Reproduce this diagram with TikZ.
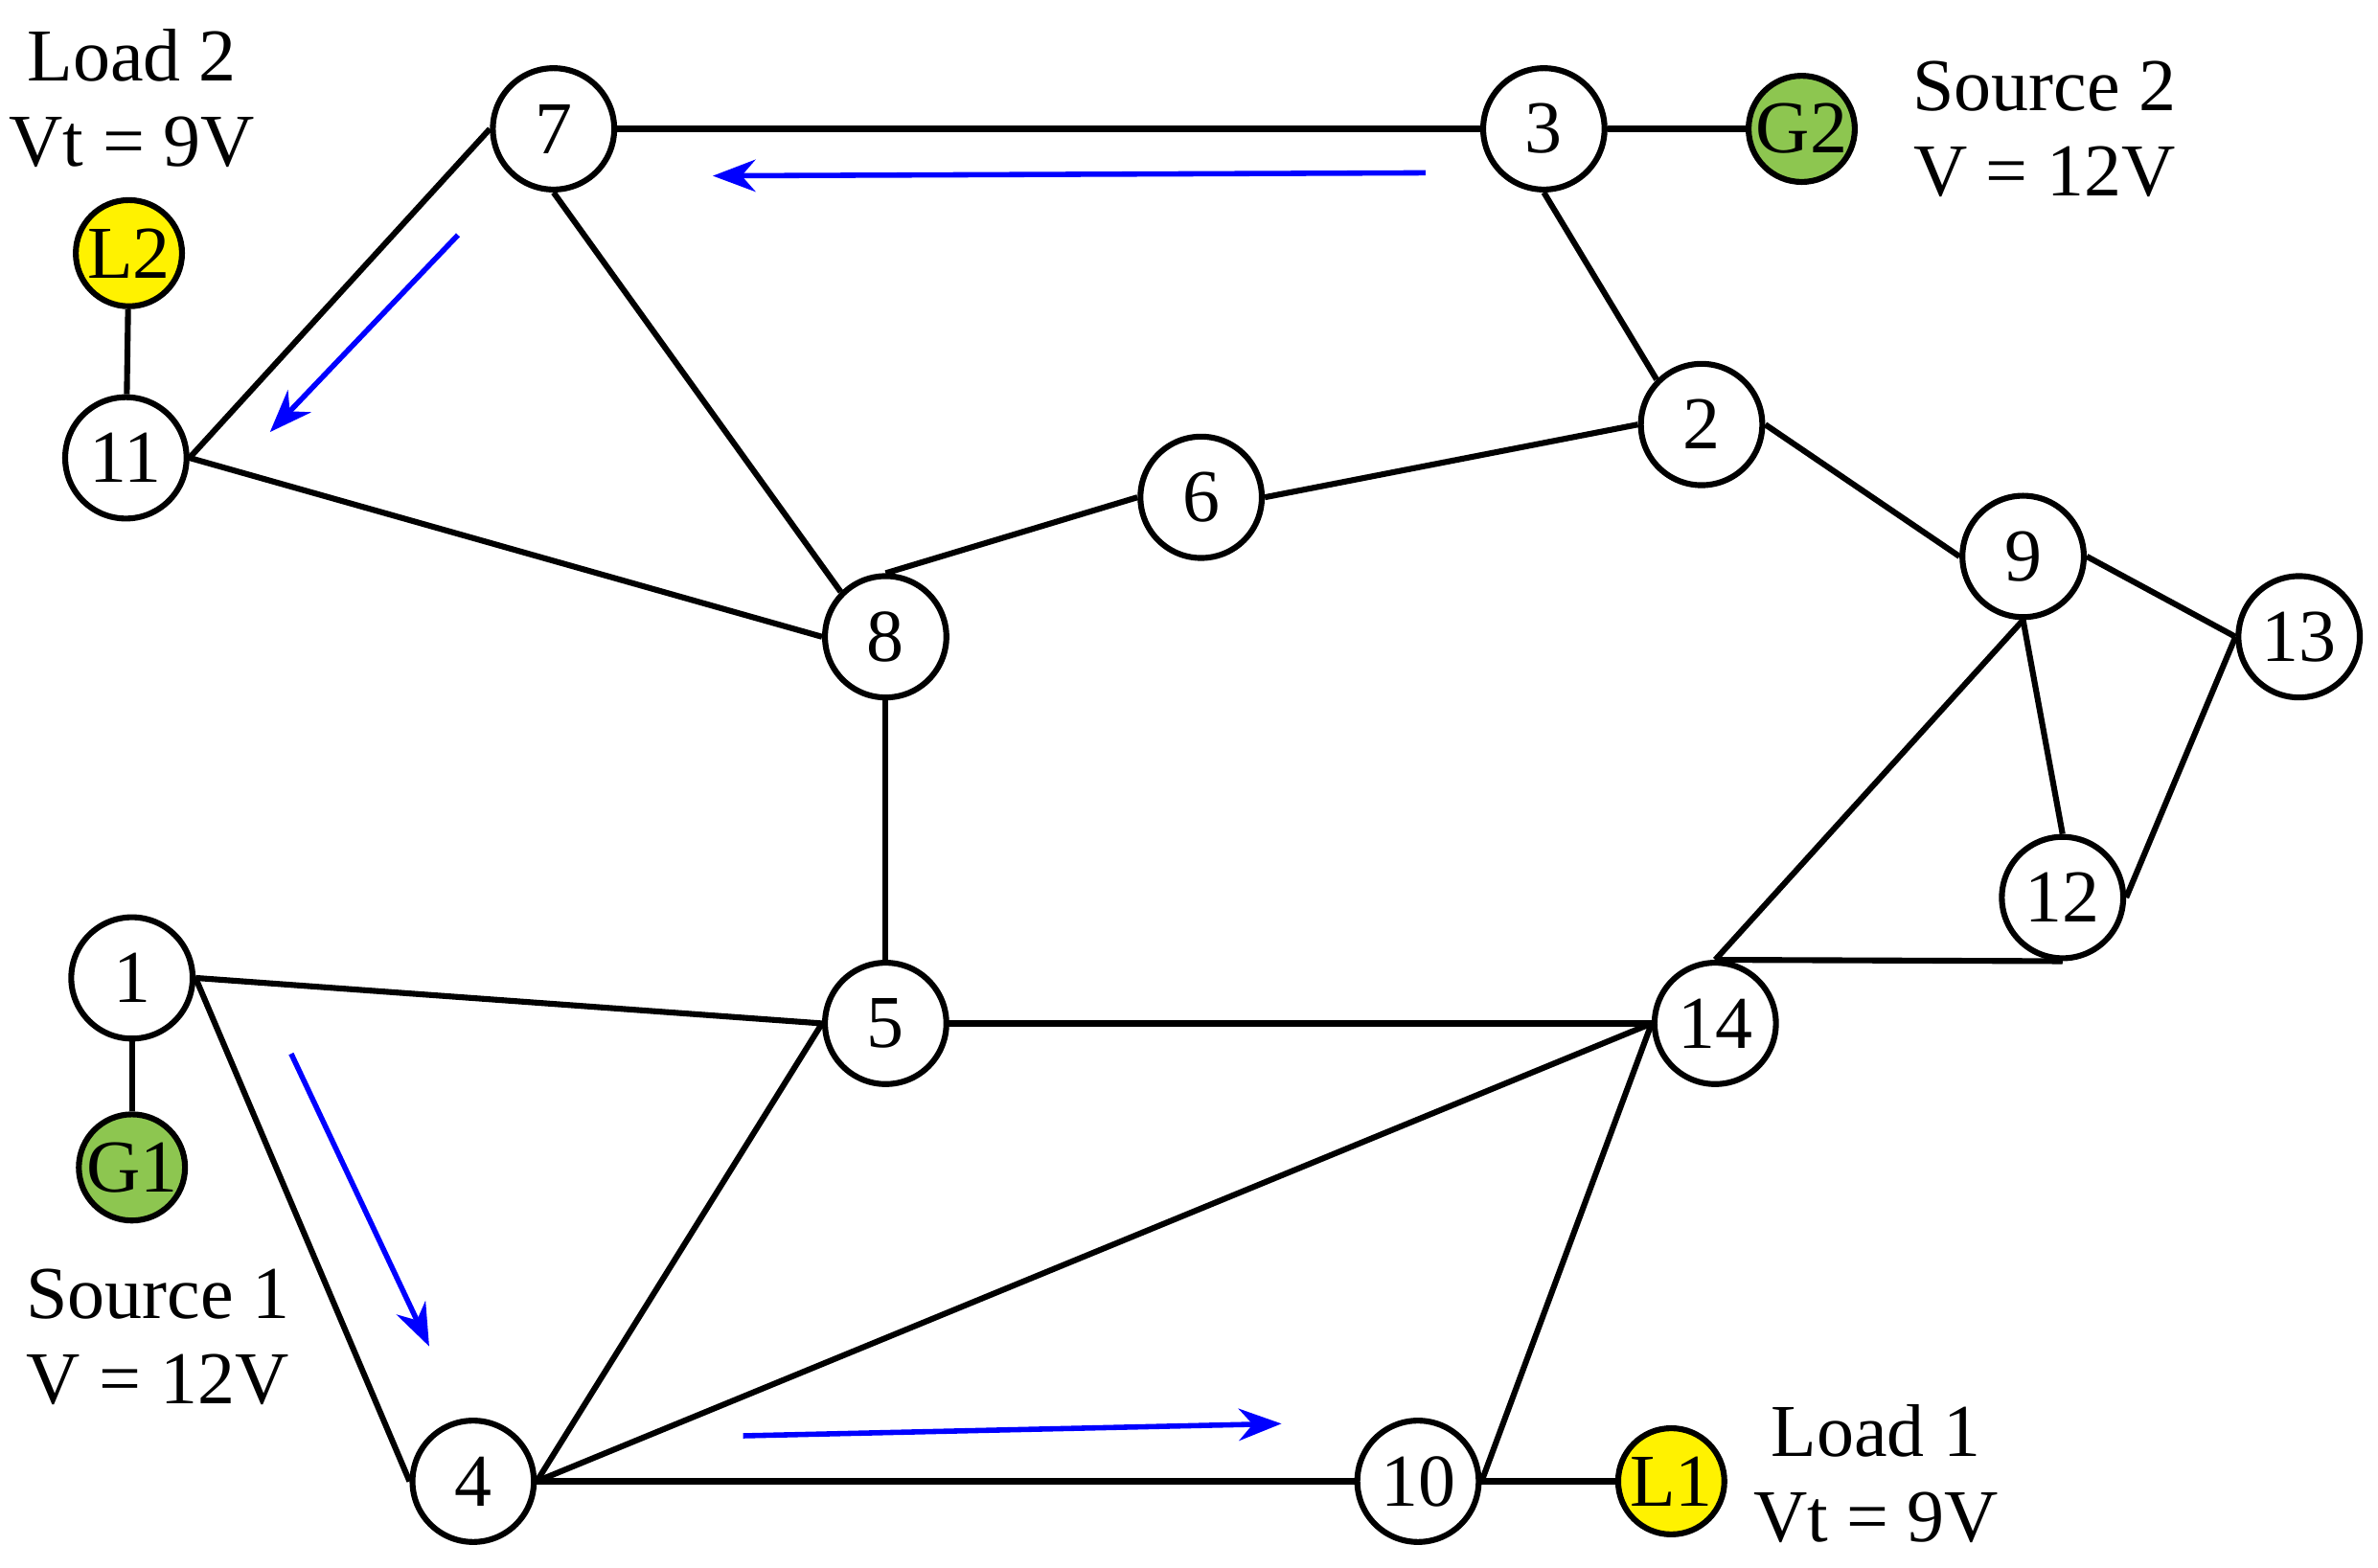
\documentclass[tikz,border=0pt]{standalone}
\usepackage{fontspec}
\setmainfont{Liberation Serif}
\usetikzlibrary{arrows.meta}

\begin{document}
\begin{tikzpicture}[
    x=0.01cm, y=-0.01cm,
    font=\fontsize{14}{16}\selectfont,
    bus/.style = {circle, draw, line width=1.1pt, fill=white,
      minimum size=0.8cm, inner sep=0pt},
    gen/.style = {circle, draw, line width=1.1pt, fill={rgb,255:red,141;green,198;blue,80},
      minimum size=0.7cm, inner sep=0pt},
    load/.style = {circle, draw, line width=1.1pt, fill=yellow,
      minimum size=0.7cm, inner sep=0pt},
    line/.style = {line width=1.1pt},
    flow/.style = {blue, line width=1pt, -{Stealth[length=8pt,width=6pt]}},
    note/.style = {align=center}
  ]
  \useasboundingbox (0,0) rectangle (1568,1034);

  % buses
  \node (b7)  [bus] at (365,85)   {7};
  \node (b3)  [bus] at (1018,85)  {3};
  \node (b11) [bus] at (83,302)   {11};
  \node (b6)  [bus] at (792,328)  {6};
  \node (b2)  [bus] at (1122,280) {2};
  \node (b9)  [bus] at (1334,367) {9};
  \node (b13) [bus] at (1516,420) {13};
  \node (b8)  [bus] at (584,420)  {8};
  \node (b12) [bus] at (1360,592) {12};
  \node (b1)  [bus] at (87,645)   {1};
  \node (b5)  [bus] at (584,675)  {5};
  \node (b14) [bus] at (1131,675) {14};
  \node (b4)  [bus] at (312,977)  {4};
  \node (b10) [bus] at (935,977)  {10};

  % sources and loads
  \node (G1) [gen]  at (87,770)   {G1};
  \node (G2) [gen]  at (1188,85)  {G2};
  \node (L1) [load] at (1102,977) {L1};
  \node (L2) [load] at (85,167)   {L2};

  \node (src1) [note] at (104,882)  {Source 1\\V = 12V};
  \node (src2) [note] at (1348,85)  {Source 2\\V = 12V};
  \node (ld1)  [note] at (1237,972) {Load 1\\Vt = 9V};
  \node (ld2)  [note] at (87,65)    {Load 2\\Vt = 9V};

  % lines
  \draw [line] (b7.east) -- (b3.west);
  \draw [line] (b3) -- (G2);
  \draw [line] (b3.south) -- (b2.north west);
  \draw [line] (b7.west) -- (b11.east);
  \draw [line] (b7.south) -- (b8.north west);
  \draw [line] (L2) -- (b11);
  \draw [line] (b11.east) -- (b8.west);
  \draw [line] (b8.north) -- (b6.west);
  \draw [line] (b6.east) -- (b2.west);
  \draw [line] (b2.east) -- (b9.west);
  \draw [line] (b9.east) -- (b13.west);
  \draw [line] (b9.south) -- (b12.north);
  \draw [line] (b9.south) -- (b14.north);
  \draw [line] (b13.west) -- (b12.east);
  \draw [line] (b14.north) -- (b12.south);
  \draw [line] (b8.south) -- (b5.north);
  \draw [line] (b1.east) -- (b5.west);
  \draw [line] (b5.east) -- (b14.west);
  \draw [line] (b1.east) -- (b4.west);
  \draw [line] (b1) -- (G1);
  \draw [line] (b5.west) -- (b4.east);
  \draw [line] (b4.east) -- (b14.west);
  \draw [line] (b4.east) -- (b10.west);
  \draw [line] (b10.east) -- (b14.west);
  \draw [line] (b10) -- (L1);

  % power flow
  \coordinate (f1a) at (940,114);
  \coordinate (f1b) at (470,116);
  \coordinate (f2a) at (302,155);
  \coordinate (f2b) at (178,285);
  \coordinate (f3a) at (192,695);
  \coordinate (f3b) at (283,888);
  \coordinate (f4a) at (490,947);
  \coordinate (f4b) at (845,939);
  \draw [flow] (f1a) -- (f1b);
  \draw [flow] (f2a) -- (f2b);
  \draw [flow] (f3a) -- (f3b);
  \draw [flow] (f4a) -- (f4b);
\end{tikzpicture}
\end{document}
